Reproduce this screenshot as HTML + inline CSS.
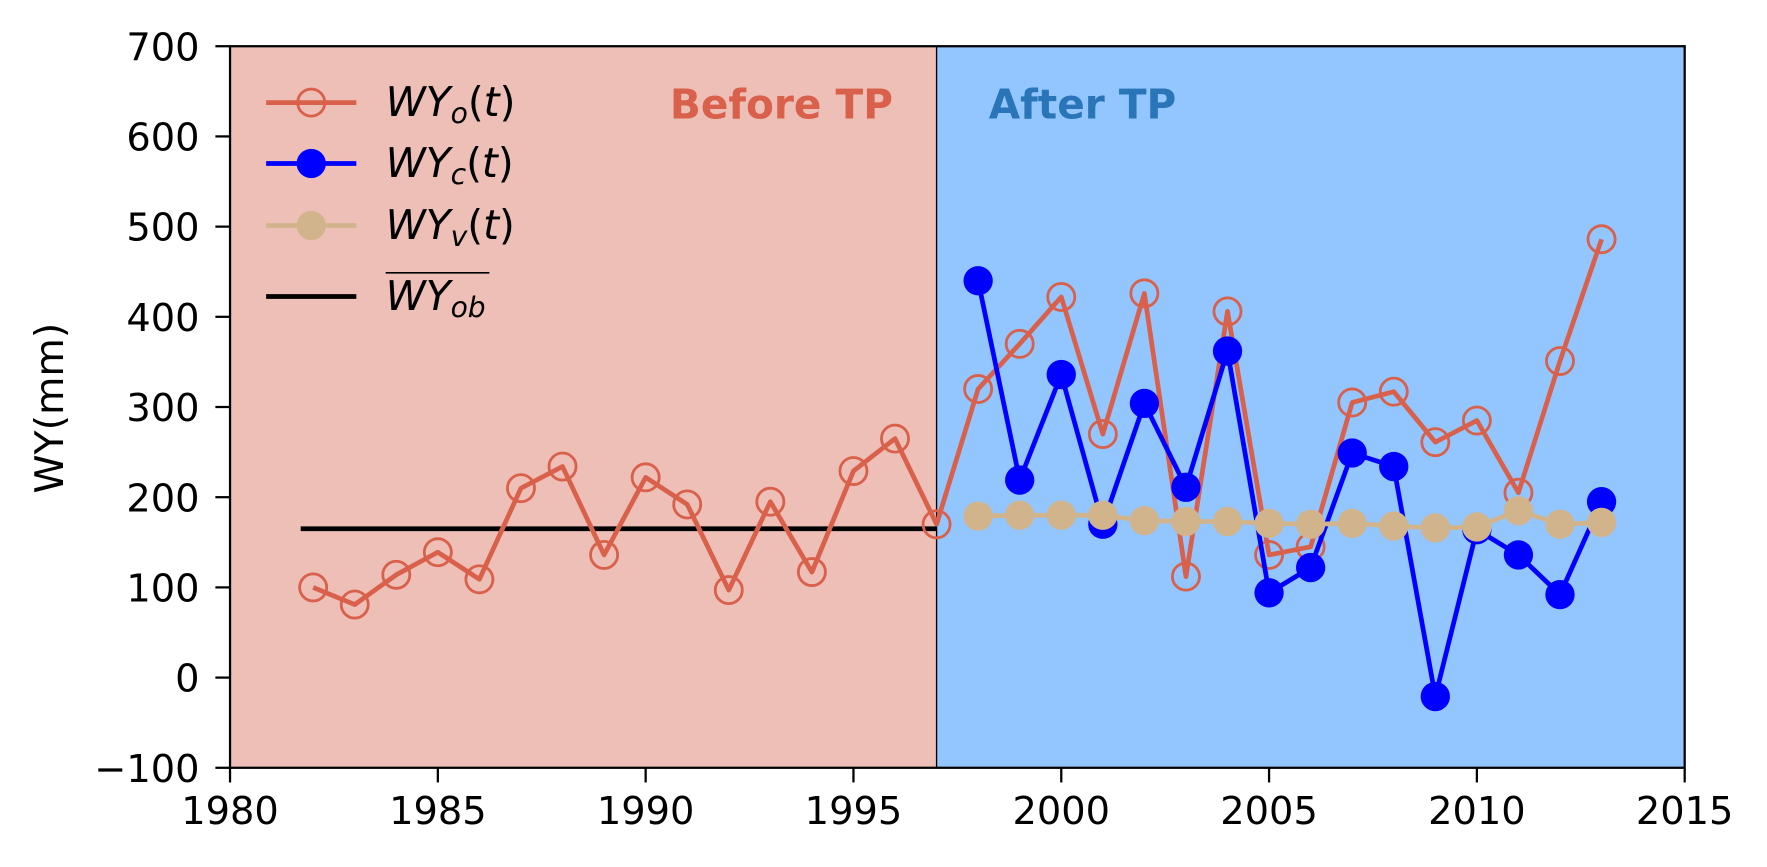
<!DOCTYPE html>
<html><head><meta charset="utf-8"><style>
body{margin:0;background:#fff;overflow:hidden;}
svg{display:block;}
svg text{font-family:"DejaVu Sans","Liberation Sans",sans-serif;}
.it{font-style:italic;}
</style></head><body>
<svg id="chart" width="1767" height="867" viewBox="0 0 1567 769" preserveAspectRatio="none" xmlns="http://www.w3.org/2000/svg">
<rect id="bg-before" fill="#edbfb7"/>
<rect id="bg-after" fill="#93c6fe"/>
<g id="marks"></g>
<rect id="frame" fill="none" stroke="#000" stroke-width="2"/>
<g id="axes"></g>
<text x="693" y="105" font-size="36" font-weight="bold" fill="#d9604a" text-anchor="middle">Before TP</text>
<text x="960" y="105" font-size="36" font-weight="bold" fill="#2a74b8" text-anchor="middle">After TP</text>
<text transform="translate(56,362) rotate(-90)" font-size="35" text-anchor="middle">WY(mm)</text>
<g font-size="36">
  <g>
    <line x1="236" y1="91" x2="316" y2="91" stroke="#d9604a" stroke-width="4.2"/>
    <circle cx="276" cy="91" r="12" fill="none" stroke="#d9604a" stroke-width="2.5"/>
    <text x="342" y="103"><tspan class="it">WY</tspan><tspan class="it" font-size="25" dy="6">o</tspan><tspan dy="-6">(</tspan><tspan class="it">t</tspan>)</text>
  </g>
  <g>
    <line x1="236" y1="145" x2="316" y2="145" stroke="#0000ff" stroke-width="4.2"/>
    <circle cx="276" cy="145" r="13" fill="#0000ff"/>
    <text x="342" y="157"><tspan class="it">WY</tspan><tspan class="it" font-size="25" dy="6">c</tspan><tspan dy="-6">(</tspan><tspan class="it">t</tspan>)</text>
  </g>
  <g>
    <line x1="236" y1="200" x2="316" y2="200" stroke="#d2b48c" stroke-width="4.2"/>
    <circle cx="276" cy="200" r="13" fill="#d2b48c"/>
    <text x="342" y="212"><tspan class="it">WY</tspan><tspan class="it" font-size="25" dy="6">v</tspan><tspan dy="-6">(</tspan><tspan class="it">t</tspan>)</text>
  </g>
  <g>
    <line x1="236" y1="263" x2="316" y2="263" stroke="#000" stroke-width="4.2"/>
    <line x1="342" y1="242" x2="434" y2="242" stroke="#000" stroke-width="1.5"/>
    <text x="342" y="275" class="it">WY<tspan font-size="25" dy="6">ob</tspan></text>
  </g>
</g>
</svg>
<script>
const yearsO=[1982,1983,1984,1985,1986,1987,1988,1989,1990,1991,1992,1993,1994,1995,1996,1997,1998,1999,2000,2001,2002,2003,2004,2005,2006,2007,2008,2009,2010,2011,2012,2013];
const wyO=[100,81,114,139,109,210,234,136,222,192,97,195,117,229,265,170,320,370,422,270,426,112,406,136,145,305,317,261,285,205,351,486];
const yearsAfter=[1998,1999,2000,2001,2002,2003,2004,2005,2006,2007,2008,2009,2010,2011,2012,2013];
const wyC=[440,219,336,170,304,211,362,94,122,249,234,-21,164,136,92,195];
const wyV=[179,180,180,180,174,173,173,171,170,171,168,166,167,185,170,172];
const meanOb=165, meanStart=1981.7, meanEnd=1997;
const tpYear=1997;
const xTicks=[1980,1985,1990,1995,2000,2005,2010,2015];
const yTicks=[-100,0,100,200,300,400,500,600,700];

const L=204,R=1494,T=41,B=681;
const X=v=>L+(v-1980)/35*(R-L);
const Y=v=>B-(v+100)/800*(B-T);
const NS="http://www.w3.org/2000/svg";
function mk(tag,attrs,parent){const e=document.createElementNS(NS,tag);for(const k in attrs)e.setAttribute(k,attrs[k]);parent.appendChild(e);return e;}

const bb=document.getElementById('bg-before');
bb.setAttribute('x',L);bb.setAttribute('y',T);bb.setAttribute('width',X(tpYear)-L);bb.setAttribute('height',B-T);
const ba=document.getElementById('bg-after');
ba.setAttribute('x',X(tpYear));ba.setAttribute('y',T);ba.setAttribute('width',R-X(tpYear));ba.setAttribute('height',B-T);
const fr=document.getElementById('frame');
fr.setAttribute('x',L);fr.setAttribute('y',T);fr.setAttribute('width',R-L);fr.setAttribute('height',B-T);

const marks=document.getElementById('marks');
const tpl=mk('line',{x1:X(tpYear),x2:X(tpYear),y1:T,y2:B,stroke:'#000','stroke-width':1.2},marks);



const ml=mk('line',{x1:X(meanStart),x2:X(meanEnd),y1:Y(meanOb),y2:Y(meanOb),stroke:'#000','stroke-width':4.2},marks);



function series(xs,ys,color,name,filled,r){
  const g=mk('g',{},marks);
  
  
  const pl=mk('polyline',{points:xs.map((x,i)=>X(x)+','+Y(ys[i])).join(' '),fill:'none',stroke:color,'stroke-width':4.2,'stroke-linejoin':'round'},g);
  
  
  xs.forEach((x,i)=>{
    const c=mk('circle',filled?{cx:X(x),cy:Y(ys[i]),r:r,fill:color}:{cx:X(x),cy:Y(ys[i]),r:r,fill:'none',stroke:color,'stroke-width':2.5},g);
    
    
  });
}
series(yearsO,wyO,'#d9604a','wyo',false,12);
series(yearsAfter,wyC,'#0000ff','wyc',true,13);
series(yearsAfter,wyV,'#d2b48c','wyv',true,13);

const axes=document.getElementById('axes');
xTicks.forEach(t=>{
  const tk=mk('line',{x1:X(t),x2:X(t),y1:B,y2:B+13,stroke:'#000','stroke-width':2},axes);
  
  
  const tx=mk('text',{x:X(t),y:B+50,'font-size':34,'text-anchor':'middle'},axes);
  tx.textContent=t;
  
  
});
yTicks.forEach(t=>{
  const tk=mk('line',{x1:L-13,x2:L,y1:Y(t),y2:Y(t),stroke:'#000','stroke-width':2},axes);
  
  
  const tx=mk('text',{x:L-27,y:Y(t)+12.5,'font-size':34,'text-anchor':'end'},axes);
  tx.textContent=t<0?'\u2212'+(-t):t;
  
  
});
</script>
</body></html>
